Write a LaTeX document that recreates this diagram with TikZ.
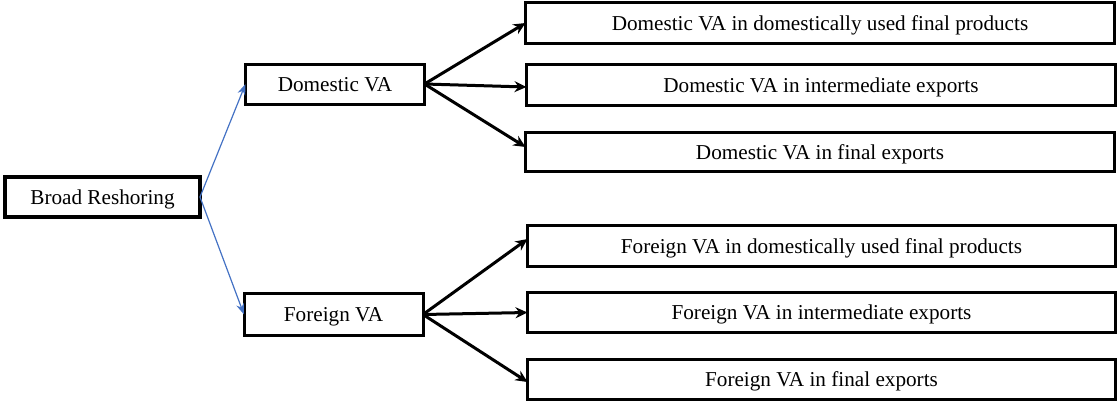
\documentclass[tikz,border=0pt]{standalone}
\usepackage{fontspec}
\setmainfont{Liberation Serif}
\usetikzlibrary{arrows.meta}
\definecolor{linkblue}{RGB}{68,114,196}
\tikzset{
box/.style		= {draw, line width=3pt, inner sep=0pt, outer sep=0pt,
				   text height=17pt, text depth=3pt,
				   font=\fontsize{21.2}{24}\selectfont},
vabox/.style	= {box, minimum width=179pt, minimum height=40pt},
endbox/.style	= {box, minimum width=589pt, minimum height=41pt},
bluelink/.style	= {draw=linkblue, line width=1.2pt, -{Stealth[length=11pt,width=8pt]}},
blacklink/.style= {line width=3pt, -{Stealth[length=12pt,width=11pt]}}
}
\begin{document}
\begin{tikzpicture}[x=1pt,y=-1pt]
%\draw[help lines] (0,0) grid (1119,402);
\useasboundingbox (0,0) rectangle (1119,402);

\node[box, line width=4pt, minimum width=195pt, minimum height=40pt] (broad) at (102.5,197) {Broad Reshoring};

\node[vabox] (dom) at (335,84) {Domestic VA};
\node[vabox, minimum height=42pt] (for) at (333.5,314.5) {Foreign VA};

\node[endbox] (dfinal) at (820,23) {Domestic VA in domestically used final products};
\node[endbox] (dinter) at (821,85) {Domestic VA in intermediate exports};
\node[endbox, minimum height=39pt] (dexp) at (820,152) {Domestic VA in final exports};

\node[endbox, minimum width=588pt] (ffinal) at (821.5,246) {Foreign VA in domestically used final products};
\node[endbox, minimum width=588pt, minimum height=40pt] (finter) at (821.5,312.5) {Foreign VA in intermediate exports};
\node[endbox, minimum width=588pt, minimum height=40pt] (fexp) at (821.5,379) {Foreign VA in final exports};

\draw[bluelink] (broad.east) -- (dom.west);
\draw[bluelink] (broad.east) -- (for.west);

\draw[blacklink] (dom.east) -- (dfinal.west);
\draw[blacklink] (dom.east) -- ([yshift=-2pt]dinter.west);
\draw[blacklink] (dom.east) -- ([yshift=5pt]dexp.west);

\draw[blacklink] (for.east) -- ([yshift=7pt]ffinal.west);
\draw[blacklink] (for.east) -- (finter.west);
\draw[blacklink] (for.east) -- ([yshift=-3pt]fexp.west);
\end{tikzpicture}
\end{document}
